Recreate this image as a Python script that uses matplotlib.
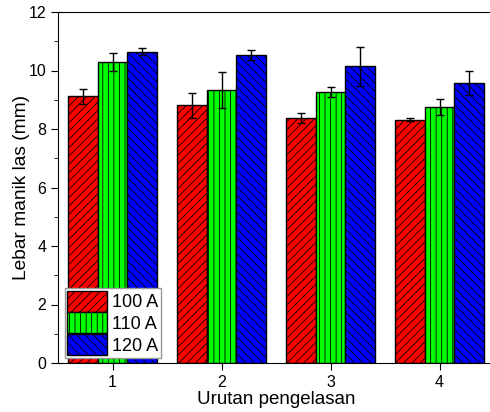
import numpy as np
import matplotlib
matplotlib.use('Agg')
import matplotlib.pyplot as plt
from matplotlib.ticker import MultipleLocator

plt.rcParams['font.family'] = ['Liberation Sans', 'DejaVu Sans']
plt.rcParams['hatch.linewidth'] = 0.6

# urutan pengelasan (welding sequence)
urutan = [1, 2, 3, 4]
labels = ['100 A', '110 A', '120 A']

# lebar manik las (mm) and error bars
lebar_100 = [9.12, 8.81, 8.36, 8.31]
lebar_110 = [10.30, 9.34, 9.26, 8.75]
lebar_120 = [10.64, 10.53, 10.14, 9.57]
err_100 = [0.25, 0.42, 0.17, 0.05]
err_110 = [0.30, 0.62, 0.18, 0.26]
err_120 = [0.12, 0.16, 0.66, 0.41]

colors = ['#ff0000', '#00ff00', '#0000ff']
hatches = ['////', '|||', '\\\\\\\\']

fig = plt.figure(figsize=(4.9, 4.12), dpi=100)
ax = fig.add_axes([58 / 490, 49 / 412, 436 / 490, 351 / 412])

x = np.array(urutan)
w = 0.27
series = [(lebar_100, err_100), (lebar_110, err_110), (lebar_120, err_120)]
for i, (vals, errs) in enumerate(series):
    ax.bar(x + (i - 1) * w, vals, w, yerr=errs, color=colors[i],
           edgecolor='black', linewidth=1, hatch=hatches[i], label=labels[i],
           error_kw=dict(ecolor='black', elinewidth=1, capsize=3, capthick=1))

ax.set_xlim(0.5, 4.5)
ax.set_ylim(0, 12)
ax.set_xticks(urutan)
ax.yaxis.set_major_locator(MultipleLocator(2))
ax.yaxis.set_minor_locator(MultipleLocator(1))
ax.tick_params(axis='both', which='major', direction='out', length=5, labelsize=11.5)
ax.tick_params(axis='y', which='minor', direction='out', length=3)
ax.set_xlabel('Urutan pengelasan', fontsize=13.5, labelpad=1)
ax.set_ylabel('Lebar manik las (mm)', fontsize=13.8, labelpad=-1)

leg = ax.legend(loc='lower left', bbox_to_anchor=(0.015, 0.015), fontsize=13,
                handlelength=2.2, handleheight=1.4, labelspacing=0.05,
                handletextpad=0.3, borderpad=0.15, borderaxespad=0,
                fancybox=False, framealpha=1, edgecolor='#999999')

fig.savefig('out.png', dpi=100)
